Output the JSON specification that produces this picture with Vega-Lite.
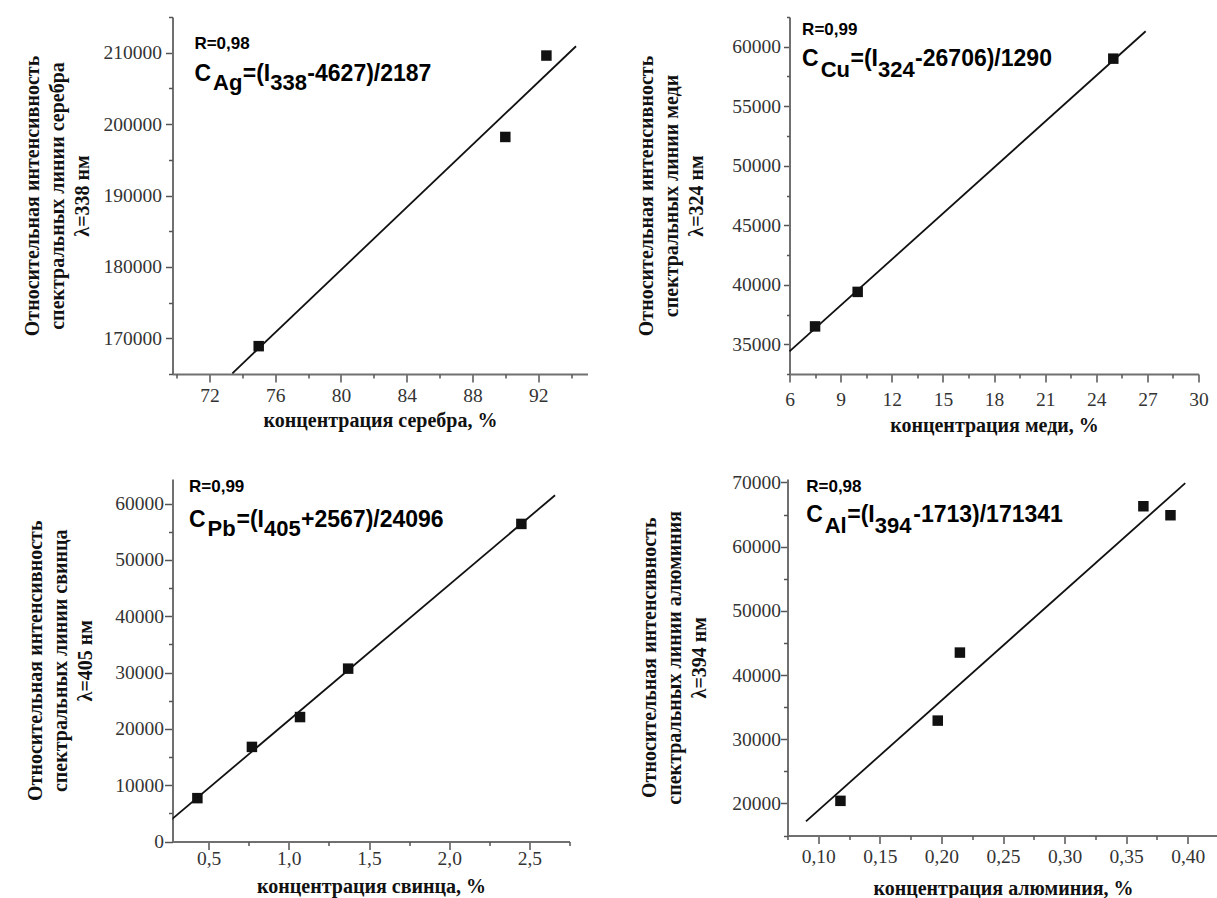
{
"$schema": "https://vega.github.io/schema/vega-lite/v6.json",
"padding": {"left": 21.5, "top": 16, "right": 0, "bottom": 0},
"background": "white",
"datasets": {
"ag_pts": [{"c":75,"i":168900},{"c":90,"i":198200},{"c":92.5,"i":209600}],
"ag_line": [{"c":73.4,"i":165100},{"c":94.3,"i":210900}],
"cu_pts": [{"c":7.5,"i":36500},{"c":10,"i":39400},{"c":25,"i":59000}],
"cu_line": [{"c":6,"i":34400},{"c":26.9,"i":61300}],
"pb_pts": [{"c":0.43,"i":7700},{"c":0.77,"i":16800},{"c":1.07,"i":22100},{"c":1.37,"i":30700},{"c":2.45,"i":56400}],
"pb_line": [{"c":0.25,"i":3450},{"c":2.66,"i":61500}],
"al_pts": [{"c":0.118,"i":20400},{"c":0.197,"i":32900},{"c":0.215,"i":43500},{"c":0.364,"i":66300},{"c":0.386,"i":64900}],
"al_line": [{"c":0.09,"i":17200},{"c":0.398,"i":69900}]
},
"columns": 1,
"align": "none",
"spacing": 36,
"concat": [
{"hconcat": [
{"width": 415, "height": 357,
 "resolve": {"axis": {"x": "independent", "y": "independent"}},
 "layer": [
  {"layer": [
  {"data": {"name": "ag_line"}, "mark": {"type": "line", "color": "#111", "strokeWidth": 1.8, "clip": true},
   "encoding": {
    "x": {"field": "c", "type": "quantitative", "scale": {"domain": [69.757, 95], "nice": false, "zero": false},
      "axis": {"values": [72,76,80,84,88,92], "format": "d", "tickSize": 8,
        "labelPadding": 4.5, "title": "концентрация серебра, %", "titlePadding": 5}},
    "y": {"field": "i", "type": "quantitative", "scale": {"domain": [165000, 215000], "nice": false, "zero": false},
      "axis": {"values": [170000,180000,190000,200000,210000], "format": "d", "tickSize": 7,
        "labelPadding": 4, "title": ["Относительная интенсивность", "спектральных линии серебра", "λ=338 нм"], "titlePadding": 11}}}},
  {"data": {"name": "ag_pts"}, "mark": {"type": "square", "filled": true, "color": "#111", "size": 110, "opacity": 1},
   "encoding": {"x": {"field": "c", "type": "quantitative"}, "y": {"field": "i", "type": "quantitative"}}},
  {"data": {"values": [{}]}, "mark": {"type": "text", "style": "rlab"}, "encoding": {"x": {"datum": 71.09}, "y": {"datum": 210518}, "text": {"value": "R=0,98"}}},
  {"data": {"values": [{}]}, "mark": {"type": "text", "style": "main"}, "encoding": {"x": {"datum": 71.09}, "y": {"datum": 206036}, "text": {"value": "C"}}},
  {"data": {"values": [{}]}, "mark": {"type": "text", "style": "sub"}, "encoding": {"x": {"datum": 72.22}, "y": {"datum": 204776}, "text": {"value": "Ag"}}},
  {"data": {"values": [{}]}, "mark": {"type": "text", "style": "main"}, "encoding": {"x": {"datum": 74.03}, "y": {"datum": 206036}, "text": {"value": "=(I"}}},
  {"data": {"values": [{}]}, "mark": {"type": "text", "style": "sub"}, "encoding": {"x": {"datum": 75.70}, "y": {"datum": 204776}, "text": {"value": "338"}}},
  {"data": {"values": [{}]}, "mark": {"type": "text", "style": "main"}, "encoding": {"x": {"datum": 77.96}, "y": {"datum": 206036}, "text": {"value": "-4627)/2187"}}}
  ]},
  {"data": {"name": "ag_pts"}, "mark": {"type": "point", "opacity": 0},
   "encoding": {
    "x": {"field": "c", "type": "quantitative", "axis": {"orient": "bottom", "values": [70,74,78,82,86,90,94], "labels": false, "domain": false, "tickSize": 4, "title": null}},
    "y": {"field": "i", "type": "quantitative", "axis": {"orient": "left", "values": [165000,175000,185000,195000,205000,215000], "labels": false, "domain": false, "tickSize": 4, "title": null}}}}
 ]},
{"width": 409, "height": 357,
 "resolve": {"axis": {"x": "independent", "y": "independent"}},
 "layer": [
  {"layer": [
  {"data": {"name": "cu_line"}, "mark": {"type": "line", "color": "#111", "strokeWidth": 1.8},
   "encoding": {
    "x": {"field": "c", "type": "quantitative", "scale": {"domain": [6, 30], "nice": false, "zero": false},
      "axis": {"values": [6,9,12,15,18,21,24,27,30], "format": "d", "tickSize": 8,
        "labelPadding": 8.5, "title": "концентрация меди, %", "titlePadding": 6.5}},
    "y": {"field": "i", "type": "quantitative", "scale": {"domain": [32500, 62500], "nice": false, "zero": false},
      "axis": {"values": [35000,40000,45000,50000,55000,60000], "format": "d", "tickSize": 6,
        "labelPadding": 3, "title": ["Относительная интенсивность", "спектральных линии меди", "λ=324 нм"], "titlePadding": 25.25}}}},
  {"data": {"name": "cu_pts"}, "mark": {"type": "square", "filled": true, "color": "#111", "size": 110, "opacity": 1},
   "encoding": {"x": {"field": "c", "type": "quantitative"}, "y": {"field": "i", "type": "quantitative"}}},
  {"data": {"values": [{}]}, "mark": {"type": "text", "style": "rlab"}, "encoding": {"x": {"datum": 6.74}, "y": {"datum": 61013}, "text": {"value": "R=0,99"}}},
  {"data": {"values": [{}]}, "mark": {"type": "text", "style": "main"}, "encoding": {"x": {"datum": 6.74}, "y": {"datum": 58383}, "text": {"value": "C"}}},
  {"data": {"values": [{}]}, "mark": {"type": "text", "style": "sub"}, "encoding": {"x": {"datum": 7.83}, "y": {"datum": 57500}, "text": {"value": "Cu"}}},
  {"data": {"values": [{}]}, "mark": {"type": "text", "style": "main"}, "encoding": {"x": {"datum": 9.58}, "y": {"datum": 58383}, "text": {"value": "=(I"}}},
  {"data": {"values": [{}]}, "mark": {"type": "text", "style": "sub"}, "encoding": {"x": {"datum": 11.19}, "y": {"datum": 57500}, "text": {"value": "324"}}},
  {"data": {"values": [{}]}, "mark": {"type": "text", "style": "main"}, "encoding": {"x": {"datum": 13.37}, "y": {"datum": 58383}, "text": {"value": "-26706)/1290"}}}
  ]},
  {"data": {"name": "cu_pts"}, "mark": {"type": "point", "opacity": 0},
   "encoding": {
    "x": {"field": "c", "type": "quantitative", "axis": {"orient": "bottom", "values": [7.5,10.5,13.5,16.5,19.5,22.5,25.5,28.5], "labels": false, "domain": false, "tickSize": 4, "title": null}},
    "y": {"field": "i", "type": "quantitative", "axis": {"orient": "left", "values": [32500,37500,42500,47500,52500,57500,62500], "labels": false, "domain": false, "tickSize": 3, "title": null}}}}
 ]}
], "spacing": 49},
{"concat": [
{"width": 397, "height": 362.5,
 "resolve": {"axis": {"x": "independent", "y": "independent"}},
 "layer": [
  {"layer": [
  {"data": {"name": "pb_line"}, "mark": {"type": "line", "color": "#111", "strokeWidth": 1.8, "clip": true},
   "encoding": {
    "x": {"field": "c", "type": "quantitative", "scale": {"domain": [0.2749, 2.75], "nice": false, "zero": false},
      "axis": {"values": [0.5,1,1.5,2,2.5], "format": ".1f", "tickSize": 8,
        "labelPadding": 0, "title": "концентрация свинца, %", "titlePadding": 8}},
    "y": {"field": "i", "type": "quantitative", "scale": {"domain": [0, 64378], "nice": false, "zero": false},
      "axis": {"values": [0,10000,20000,30000,40000,50000,60000], "format": "d", "tickSize": 8,
        "labelPadding": 1, "title": ["Относительная интенсивность", "спектральных линии свинца", "λ=405 нм"], "titlePadding": 19.75}}}},
  {"data": {"name": "pb_pts"}, "mark": {"type": "square", "filled": true, "color": "#111", "size": 110, "opacity": 1},
   "encoding": {"x": {"field": "c", "type": "quantitative"}, "y": {"field": "i", "type": "quantitative"}}},
  {"data": {"values": [{}]}, "mark": {"type": "text", "style": "rlab"}, "encoding": {"x": {"datum": 0.378}, "y": {"datum": 61982}, "text": {"value": "R=0,99"}}},
  {"data": {"values": [{}]}, "mark": {"type": "text", "style": "main"}, "encoding": {"x": {"datum": 0.378}, "y": {"datum": 55766}, "text": {"value": "C"}}},
  {"data": {"values": [{}]}, "mark": {"type": "text", "style": "sub"}, "encoding": {"x": {"datum": 0.4933}, "y": {"datum": 54168}, "text": {"value": "Pb"}}},
  {"data": {"values": [{}]}, "mark": {"type": "text", "style": "main"}, "encoding": {"x": {"datum": 0.6741}, "y": {"datum": 55766}, "text": {"value": "=(I"}}},
  {"data": {"values": [{}]}, "mark": {"type": "text", "style": "sub"}, "encoding": {"x": {"datum": 0.8456}, "y": {"datum": 54168}, "text": {"value": "405"}}},
  {"data": {"values": [{}]}, "mark": {"type": "text", "style": "main"}, "encoding": {"x": {"datum": 1.0763}, "y": {"datum": 55766}, "text": {"value": "+2567)/24096"}}}
  ]},
  {"data": {"name": "pb_pts"}, "mark": {"type": "point", "opacity": 0},
   "encoding": {
    "x": {"field": "c", "type": "quantitative", "axis": {"orient": "bottom", "values": [0.75,1.25,1.75,2.25,2.75], "labels": false, "domain": false, "tickSize": 4, "title": null}},
    "y": {"field": "i", "type": "quantitative", "axis": {"orient": "left", "values": [5000,15000,25000,35000,45000,55000], "labels": false, "domain": false, "tickSize": 4, "title": null}}}}
 ]},
{"width": 431, "height": 356.5,
 "resolve": {"axis": {"x": "independent", "y": "independent"}},
 "layer": [
  {"layer": [
  {"data": {"name": "al_line"}, "mark": {"type": "line", "color": "#111", "strokeWidth": 1.8},
   "encoding": {
    "x": {"field": "c", "type": "quantitative", "scale": {"domain": [0.075, 0.425], "nice": false, "zero": false},
      "axis": {"values": [0.1,0.15,0.2,0.25,0.3,0.35,0.4], "format": ".2f", "tickSize": 8,
        "labelPadding": 4, "title": "концентрация алюминия, %", "titlePadding": 12.5}},
    "y": {"field": "i", "type": "quantitative", "scale": {"domain": [15000, 70545], "nice": false, "zero": false},
      "axis": {"values": [20000,30000,40000,50000,60000,70000], "format": "d", "tickSize": 7,
        "labelPadding": 0, "title": ["Относительная интенсивность", "спектральных линии алюминия", "λ=394 нм"], "titlePadding": 22.25}}}},
  {"data": {"name": "al_pts"}, "mark": {"type": "square", "filled": true, "color": "#111", "size": 110, "opacity": 1},
   "encoding": {"x": {"field": "c", "type": "quantitative"}, "y": {"field": "i", "type": "quantitative"}}},
  {"data": {"values": [{}]}, "mark": {"type": "text", "style": "rlab"}, "encoding": {"x": {"datum": 0.0902}, "y": {"datum": 68442}, "text": {"value": "R=0,98"}}},
  {"data": {"values": [{}]}, "mark": {"type": "text", "style": "main"}, "encoding": {"x": {"datum": 0.0902}, "y": {"datum": 63768}, "text": {"value": "C"}}},
  {"data": {"values": [{}]}, "mark": {"type": "text", "style": "sub"}, "encoding": {"x": {"datum": 0.1052}, "y": {"datum": 62054}, "text": {"value": "Al"}}},
  {"data": {"values": [{}]}, "mark": {"type": "text", "style": "main"}, "encoding": {"x": {"datum": 0.1235}, "y": {"datum": 63768}, "text": {"value": "=(I"}}},
  {"data": {"values": [{}]}, "mark": {"type": "text", "style": "sub"}, "encoding": {"x": {"datum": 0.1459}, "y": {"datum": 62054}, "text": {"value": "394"}}},
  {"data": {"values": [{}]}, "mark": {"type": "text", "style": "main"}, "encoding": {"x": {"datum": 0.1771}, "y": {"datum": 63768}, "text": {"value": "-1713)/171341"}}}
  ]},
  {"data": {"name": "al_pts"}, "mark": {"type": "point", "opacity": 0},
   "encoding": {
    "x": {"field": "c", "type": "quantitative", "axis": {"orient": "bottom", "values": [0.075,0.125,0.175,0.225,0.275,0.325,0.375,0.425], "labels": false, "domain": false, "tickSize": 4, "title": null}},
    "y": {"field": "i", "type": "quantitative", "axis": {"orient": "left", "values": [15000,25000,35000,45000,55000,65000], "labels": false, "domain": false, "tickSize": 4, "title": null}}}}
 ]}
], "columns": 2, "align": "none", "spacing": 69}
],
"config": {
 "locale": {"number": {"decimal": ",", "thousands": "", "grouping": [3], "currency": ["", ""]}},
 "view": {"stroke": null},
 "axis": {"grid": false, "domainColor": "#707070", "domainWidth": 2, "tickColor": "#555", "tickWidth": 1.5,
   "labelFont": "Liberation Serif", "labelFontSize": 19.5, "labelColor": "#333",
   "titleFont": "Liberation Serif", "titleFontSize": 20, "titleFontWeight": "bold", "titleColor": "#111", "titleLineHeight": 25,
   "labelOverlap": false, "labelFlush": false, "labelBound": false},
 "style": {
   "main": {"font": "Liberation Sans", "fontWeight": "bold", "fontSize": 23, "align": "left", "baseline": "alphabetic", "fill": "#1a1a1a"},
   "sub": {"font": "Liberation Sans", "fontWeight": "bold", "fontSize": 22, "align": "left", "baseline": "alphabetic", "fill": "#1a1a1a"},
   "rlab": {"font": "Liberation Sans", "fontWeight": "bold", "fontSize": 17, "align": "left", "baseline": "alphabetic", "fill": "#1a1a1a"}
 }
}
}
